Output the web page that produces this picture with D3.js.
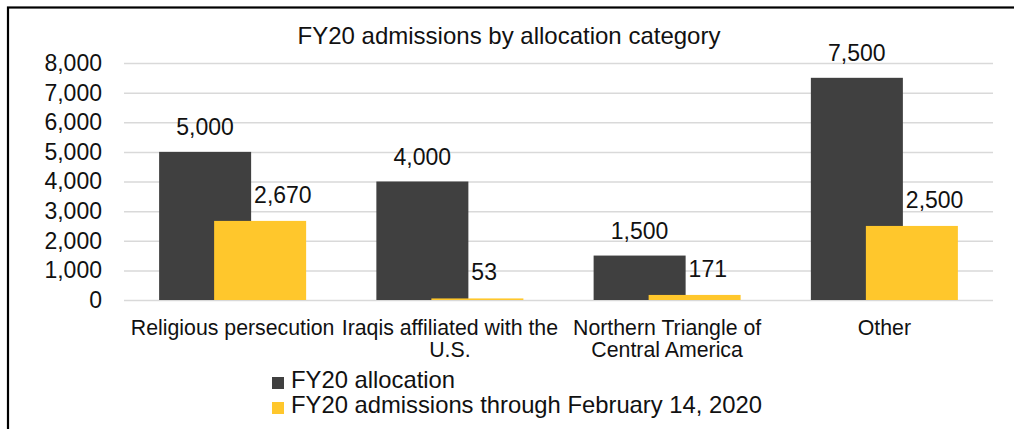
<!DOCTYPE html>
<html>
<head>
<meta charset="utf-8">
<script src="https://cdn.jsdelivr.net/npm/d3@7"></script>
<style>
  html, body { margin: 0; padding: 0; background: #fff; }
  svg { display: block; font-family: "Liberation Sans", Arial, sans-serif; }
</style>
</head>
<body>
<svg id="chart" width="1014" height="429"></svg>
<script>
// data
const categories = [
  ['Religious persecution'],
  ['Iraqis affiliated with the', 'U.S.'],
  ['Northern Triangle of', 'Central America'],
  ['Other']
];
const seriesNames = ['FY20 allocation', 'FY20 admissions through February 14, 2020'];
const allocation = [5000, 4000, 1500, 7500];
const admissions = [2670, 53, 171, 2500];
const yTicks = [0, 1000, 2000, 3000, 4000, 5000, 6000, 7000, 8000];
const colors = ['#404040', '#ffc72c'];

const svg = d3.select('#chart');
const fmt = d3.format(',');
const plotL = 124, plotR = 993, plotT = 63, plotB = 300;

const x = d3.scaleBand().domain(d3.range(categories.length)).range([plotL, plotR]).padding(0);
const bw = x.bandwidth();
const barW = bw * 0.4235, step = bw * 0.2532;
const xs = d3.scalePoint().domain([0, 1]).range([-step / 2, step / 2]);
const y = d3.scaleLinear().domain([0, 8000]).range([plotB, plotT]);

// frame
svg.append('rect').attr('x', 8).attr('y', 7.5).attr('width', 1100).attr('height', 600)
  .attr('fill', 'none').attr('stroke', '#000').attr('stroke-width', 2.2);

svg.append('text').attr('x', 509).attr('y', 44).attr('text-anchor', 'middle')
  .attr('font-size', '24px').attr('fill', '#111').text('FY20 admissions by allocation category');

// gridlines + y labels
const yAxis = d3.axisLeft(y).tickValues(yTicks).tickFormat(fmt).tickSize(-(plotR - plotL)).tickPadding(22);
const ga = svg.append('g').attr('transform', `translate(${plotL},0)`).call(yAxis);
ga.select('.domain').remove();
ga.selectAll('.tick line').attr('stroke', '#d9d9d9').attr('stroke-width', 1.5);
ga.selectAll('.tick text').attr('font-size', '23px').attr('fill', '#111').attr('font-family', '"Liberation Sans", Arial, sans-serif');

const series = [allocation, admissions];
series.forEach((vals, s) => {
  svg.append('g').selectAll('rect').data(vals).enter().append('rect')
    .attr('x', (d, i) => x(i) + bw / 2 + xs(s) - barW / 2)
    .attr('y', d => y(d)).attr('width', barW).attr('height', d => plotB - y(d))
    .attr('fill', colors[s]);
});

// value labels: allocation centred over its bar, admissions set just right of the dark bar
svg.append('g').selectAll('text').data(allocation).enter().append('text')
  .attr('x', (d, i) => x(i) + bw / 2 + xs(0)).attr('y', d => y(d) - 17)
  .attr('text-anchor', 'middle').attr('font-size', '23px').attr('fill', '#111').text(fmt);
svg.append('g').selectAll('text').data(admissions).enter().append('text')
  .attr('x', (d, i) => x(i) + bw / 2 + xs(0) + barW / 2 + 3).attr('y', d => y(d) - 18)
  .attr('text-anchor', 'start').attr('font-size', '23px').attr('fill', '#111').text(fmt);

// category labels
const cg = svg.append('g').selectAll('text').data(categories).enter().append('text')
  .attr('x', (d, i) => x(i) + bw / 2).attr('y', 335)
  .attr('text-anchor', 'middle').attr('font-size', '21.3px').attr('fill', '#111');
cg.selectAll('tspan').data(d => d).enter().append('tspan')
  .attr('x', function () { return this.parentNode.getAttribute('x'); })
  .attr('dy', (d, j) => j ? 22 : 0).text(d => d);

// legend
const lg = svg.append('g').selectAll('g').data(seriesNames).enter().append('g')
  .attr('transform', (d, i) => `translate(272,${377 + i * 25})`);
lg.append('rect').attr('width', 12).attr('height', 12).attr('fill', (d, i) => colors[i]);
lg.append('text').attr('x', 19).attr('y', 11).attr('font-size', '23.8px').attr('fill', '#111').text(d => d);
</script>
</body>
</html>
